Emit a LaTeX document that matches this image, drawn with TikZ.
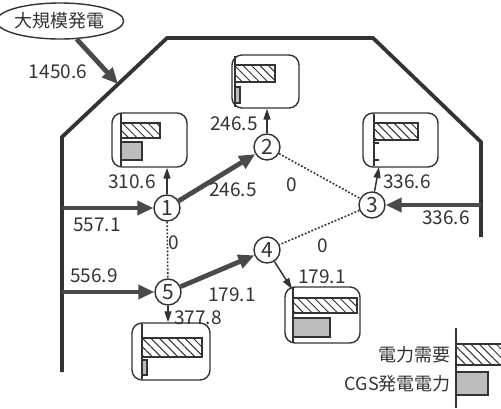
\documentclass[tikz,border=0pt]{standalone}
\usepackage{fontspec}
\setmainfont{Noto Sans CJK JP}
\usetikzlibrary{shapes.geometric,arrows.meta,patterns.meta}
\definecolor{ink}{HTML}{333333}
\definecolor{flowgray}{HTML}{4A4A4A}
\definecolor{barfill}{HTML}{BDBDBD}
\begin{document}
\begin{tikzpicture}[x=1pt,y=-1pt,
  font=\fontsize{19}{20}\selectfont,
  every node/.style={text=ink},
  outline/.style={draw=ink,line width=3.8pt,line join=miter},
  flow/.style={draw=flowgray,line width=4.8pt,-{Triangle[length=16pt,width=14pt]}},
  thinarrow/.style={draw=ink,line width=1.5pt,-{Triangle[length=11pt,width=7pt]}},
  link/.style={draw=ink,line width=1.6pt,dash pattern=on 1.8pt off 1.8pt},
  bus/.style={circle,draw=ink,line width=1.4pt,minimum size=26pt,inner sep=0pt,fill=white,font=\fontsize{21}{21}\selectfont},
  chartbox/.style={draw=ink,line width=1.4pt,rounded corners=10pt,rectangle},
  demand/.style={draw=ink,line width=1.1pt,pattern={Lines[angle=-45,distance=6pt,line width=1pt]},pattern color=ink},
  cgs/.style={draw=ink,line width=1.1pt,fill=barfill},
  axisline/.style={draw=ink,line width=1.4pt},
  lbl/.style={inner sep=0pt},
  cjk/.style={inner sep=0pt,font=\fontsize{18}{19}\selectfont},
]
\useasboundingbox[fill=white] (0,0) rectangle (501,408);

% outline of the region
\draw[outline] (62,372) -- (62,137) -- (167,38) -- (373,38) -- (481,142) -- (481,237);

% large scale generation
\node[ellipse,draw=ink,line width=1.4pt,minimum width=112pt,minimum height=36pt,inner sep=0pt,fill=white,font=\fontsize{18}{19}\selectfont] (big) at (60,21) {大規模発電};
\coordinate (hit) at (118,84);
\draw[flow] (big) -- (hit);
\node[lbl] at (58,72) {1450.6};

% buses
\node[bus] (n1) at (167,208) {1};
\node[bus] (n2) at (267,147) {2};
\node[bus] (n3) at (372,205) {3};
\node[bus] (n4) at (267,250) {4};
\node[bus] (n5) at (168,292) {5};

% feeds from the outline
\coordinate (t1) at (62,208);
\coordinate (t5) at (62,292);
\coordinate (t3) at (481,205);
\draw[flow] (t1) -- (n1);
\draw[flow] (t5) -- (n5);
\draw[flow] (t3) -- (n3);
\draw[flow] (n1) -- (n2);
\draw[flow] (n5) -- (n4);

% dotted links
\draw[link] (n1) -- (n5);
\draw[link] (n2) -- (n3);
\draw[link] (n3) -- (n4);

% chart boxes
\node[chartbox,minimum width=75pt,minimum height=54pt] (b1) at (149.5,140) {};
\node[chartbox,minimum width=67pt,minimum height=53pt] (b2) at (265.5,81.5) {};
\node[chartbox,minimum width=75pt,minimum height=54pt] (b3) at (400.5,140) {};
\node[chartbox,minimum width=75pt,minimum height=56pt] (b4) at (322.5,315) {};
\node[chartbox,minimum width=78pt,minimum height=57pt] (b5) at (171,351.5) {};

% box 1
\draw[axisline] (121,114) -- (121,166);
\draw[demand] (121,123) rectangle (160,138);
\draw[cgs] (121,142) rectangle (142,160);
% box 2
\draw[axisline] (235,56) -- (235,107);
\draw[demand] (235,65) rectangle (275,82);
\draw[cgs] (235,87) rectangle (240,103);
% box 3
\draw[axisline] (374,114) -- (374,166);
\draw[demand] (374,123) rectangle (418,140);
\draw[draw=ink,line width=1.1pt] (374,143) -- (379,143) (374,160) -- (379,160);
% box 4
\draw[axisline] (293,288) -- (293,342);
\draw[demand] (293,298) rectangle (357,313);
\draw[cgs] (293,318) rectangle (330,337);
% box 5
\draw[axisline] (142,324) -- (142,379);
\draw[demand] (142,338) rectangle (202,357);
\draw[cgs] (142,360) rectangle (147,375);

% arrows to boxes
\draw[thinarrow] (n1) -- (n1 |- b1.south);
\draw[thinarrow] (n2) -- (n2 |- b2.south);
\coordinate (b3in) at (379,167);
\draw[thinarrow] (n3) -- (b3in);
\coordinate (b4in) at (292,289);
\draw[thinarrow] (n4) -- (b4in);
\draw[thinarrow] (n5) -- (n5 |- b5.north);

% flow labels
\node[lbl] at (97,225) {557.1};
\node[lbl] at (94,276) {556.9};
\node[lbl] at (132,182) {310.6};
\node[lbl] at (234,124) {246.5};
\node[lbl] at (233,190) {246.5};
\node[lbl] at (292,185) {0};
\node[lbl] at (174,243) {0};
\node[lbl] at (407,182) {336.6};
\node[lbl] at (446,218) {336.6};
\node[lbl] at (323,246) {0};
\node[lbl] at (322,277) {179.1};
\node[lbl] at (232,295) {179.1};
\node[lbl] at (198,318) {377.8};

% legend
\draw[axisline] (456,328) -- (456,408);
\draw[demand] (456,344) rectangle (506,365);
\draw[cgs] (456,372) rectangle (488,395);
\node[cjk,anchor=east] at (451,355) {電力需要};
\node[cjk,anchor=east] at (451,384) {CGS発電電力};
\end{tikzpicture}
\end{document}
